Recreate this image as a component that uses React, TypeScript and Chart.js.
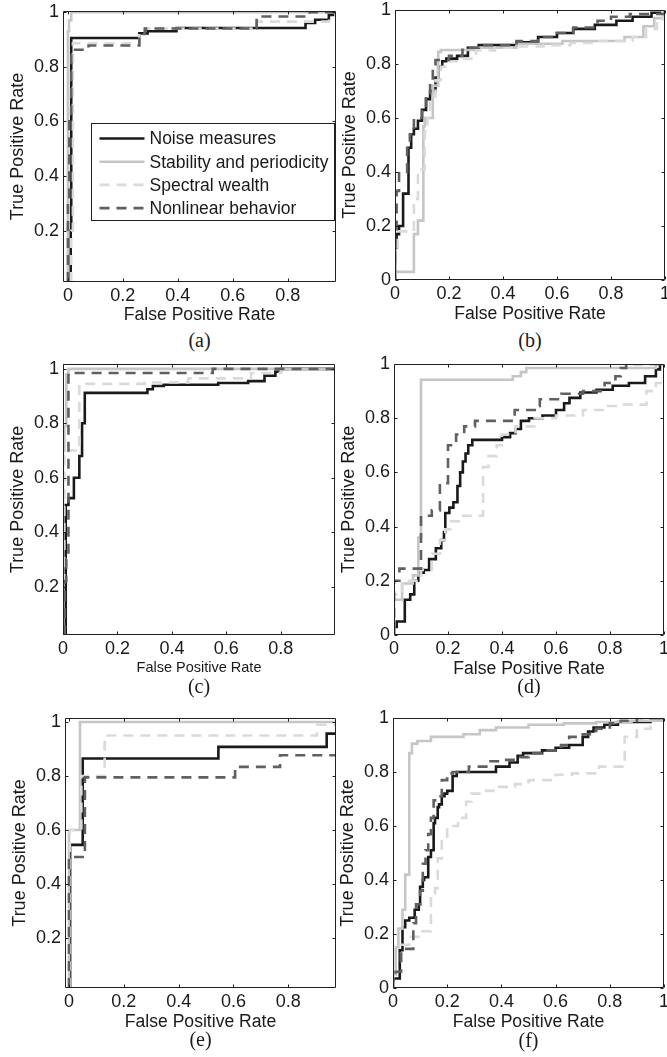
import React, { useEffect, useRef } from "react";
import { Chart, registerables } from "chart.js";

Chart.register(...registerables);

// ---------- labels ----------
const SERIES_LABELS = [
  "Noise measures",
  "Stability and periodicity",
  "Spectral wealth",
  "Nonlinear behavior",
];
const X_TITLE = "False Positive Rate";
const Y_TITLE = "True Positive Rate";
const CAPTIONS = ["(a)", "(b)", "(c)", "(d)", "(e)", "(f)"];

// ---------- tick labels ----------
const TICKS_0_TO_08 = [0, 0.2, 0.4, 0.6, 0.8];
const TICKS_0_TO_1 = [0, 0.2, 0.4, 0.6, 0.8, 1];
const TICKS_02_TO_1 = [0.2, 0.4, 0.6, 0.8, 1];

// ---------- data: [FPR, TPR] (step-after curves) ----------
// (a)
const A_NOISE = [[0.01, 0.0125], [0.012, 0.2], [0.26, 0.905], [0.29, 0.922], [0.395, 0.93], [0.865, 0.942], [0.9, 0.96], [0.95, 0.972], [0.965, 0.99], [0.976, 1.0]];
const A_STAB = [[0, 0.0125], [0.004, 0.93], [0.012, 0.97], [0.03, 1.0], [0.976, 1.0]];
const A_SPEC = [[0.012, 0.0125], [0.018, 0.2], [0.03, 0.886], [0.26, 0.886], [0.28, 0.92], [0.395, 0.94], [0.687, 0.94], [0.95, 0.965], [0.976, 1.0]];
const A_NONLIN = [[0, 0.0125], [0.005, 0.3], [0.012, 0.6], [0.022, 0.862], [0.075, 0.862], [0.26, 0.878], [0.28, 0.92], [0.395, 0.94], [0.687, 0.94], [0.88, 0.984], [0.976, 1.0]];
// (b)
const B_NOISE = [[0, 0], [0.006, 0.12], [0.015, 0.17], [0.03, 0.2], [0.05, 0.32], [0.06, 0.49], [0.07, 0.54], [0.085, 0.56], [0.1, 0.59], [0.115, 0.63], [0.13, 0.67], [0.15, 0.7], [0.16, 0.75], [0.175, 0.79], [0.19, 0.81], [0.23, 0.82], [0.27, 0.83], [0.31, 0.86], [0.45, 0.87], [0.53, 0.88], [0.6, 0.9], [0.66, 0.915], [0.74, 0.93], [0.82, 0.945], [0.88, 0.96], [0.95, 0.975], [1, 0.99], [1, 1]];
const B_STAB = [[0, 0], [0.07, 0.03], [0.085, 0.17], [0.105, 0.22], [0.11, 0.57], [0.14, 0.6], [0.16, 0.72], [0.17, 0.845], [0.3, 0.852], [0.45, 0.86], [0.62, 0.875], [0.85, 0.885], [0.92, 0.9], [0.96, 0.94], [1, 0.97], [1, 1]];
const B_SPEC = [[0, 0], [0.01, 0.1], [0.07, 0.18], [0.085, 0.3], [0.11, 0.41], [0.12, 0.55], [0.13, 0.6], [0.15, 0.68], [0.17, 0.74], [0.2, 0.79], [0.25, 0.81], [0.3, 0.82], [0.37, 0.85], [0.45, 0.86], [0.55, 0.865], [0.65, 0.87], [0.75, 0.878], [0.88, 0.885], [0.93, 0.9], [0.97, 0.93], [0.99, 0.965], [1, 1]];
const B_NONLIN = [[0, 0], [0.006, 0.17], [0.015, 0.33], [0.045, 0.395], [0.055, 0.49], [0.07, 0.54], [0.1, 0.6], [0.115, 0.63], [0.13, 0.69], [0.14, 0.74], [0.15, 0.78], [0.2, 0.815], [0.25, 0.83], [0.31, 0.86], [0.45, 0.87], [0.53, 0.885], [0.6, 0.9], [0.66, 0.915], [0.75, 0.935], [0.8, 0.96], [0.87, 0.975], [1, 0.985], [1, 1]];
// (c)
const C_NOISE = [[0.01, 0.022], [0.02, 0.5], [0.04, 0.525], [0.06, 0.6], [0.07, 0.68], [0.08, 0.8], [0.31, 0.912], [0.33, 0.925], [0.37, 0.937], [0.57, 0.942], [0.68, 0.948], [0.74, 0.955], [0.78, 0.975], [0.8, 0.99], [0.999, 1.0]];
const C_STAB = [[0, 0.022], [0.005, 0.7], [0.012, 0.79], [0.02, 0.98], [0.03, 1.0], [0.999, 1.0]];
const C_SPEC = [[0.005, 0.022], [0.06, 0.7], [0.3, 0.945], [0.46, 0.95], [0.69, 0.965], [0.8, 0.985], [0.999, 1.0]];
const C_NONLIN = [[0.006, 0.022], [0.012, 0.22], [0.02, 0.3], [0.025, 0.985], [0.55, 0.985], [0.999, 1.0]];
// (d)
const D_NOISE = [[0, 0], [0.01, 0.03], [0.04, 0.05], [0.06, 0.13], [0.075, 0.15], [0.09, 0.2], [0.11, 0.23], [0.13, 0.24], [0.155, 0.28], [0.175, 0.32], [0.185, 0.35], [0.19, 0.38], [0.205, 0.45], [0.22, 0.47], [0.235, 0.49], [0.245, 0.55], [0.255, 0.6], [0.265, 0.64], [0.275, 0.67], [0.29, 0.7], [0.4, 0.72], [0.43, 0.73], [0.45, 0.745], [0.47, 0.76], [0.5, 0.79], [0.55, 0.8], [0.6, 0.81], [0.63, 0.83], [0.65, 0.855], [0.69, 0.875], [0.75, 0.895], [0.81, 0.905], [0.87, 0.92], [0.93, 0.93], [0.97, 0.955], [0.985, 0.98], [1, 1]];
const D_STAB = [[0, 0], [0.005, 0.13], [0.03, 0.13], [0.07, 0.19], [0.09, 0.22], [0.1, 0.36], [0.44, 0.942], [0.47, 0.955], [0.49, 0.97], [0.97, 0.985], [1, 1]];
const D_SPEC = [[0, 0], [0.03, 0.15], [0.1, 0.2], [0.14, 0.24], [0.17, 0.3], [0.19, 0.35], [0.21, 0.39], [0.25, 0.42], [0.33, 0.44], [0.35, 0.62], [0.38, 0.66], [0.4, 0.7], [0.45, 0.74], [0.52, 0.77], [0.6, 0.8], [0.7, 0.81], [0.78, 0.83], [0.84, 0.845], [0.935, 0.85], [0.97, 0.9], [1, 0.93], [1, 0.95]];
const D_NONLIN = [[0, 0], [0.02, 0.2], [0.1, 0.245], [0.14, 0.44], [0.17, 0.46], [0.2, 0.56], [0.23, 0.7], [0.26, 0.74], [0.3, 0.77], [0.447, 0.79], [0.53, 0.83], [0.54, 0.845], [0.62, 0.87], [0.7, 0.89], [0.78, 0.9], [0.82, 0.93], [0.84, 0.955], [0.86, 0.985], [1, 1]];
// (e)
const E_NOISE = [[0.004, 0.015], [0.05, 0.545], [0.545, 0.865], [0.94, 0.908], [0.974, 0.957]];
const E_STAB = [[0, 0.015], [0.04, 0.6], [0.974, 1.0]];
const E_SPEC = [[0.003, 0.015], [0.045, 0.6], [0.13, 0.8], [0.905, 0.95], [0.974, 0.99]];
const E_NONLIN = [[0, 0.015], [0.058, 0.5], [0.606, 0.795], [0.77, 0.834], [0.974, 0.877]];
// (f)
const F_NOISE = [[0, 0], [0.025, 0.035], [0.035, 0.14], [0.045, 0.225], [0.06, 0.25], [0.08, 0.26], [0.095, 0.29], [0.1, 0.31], [0.11, 0.375], [0.115, 0.4], [0.13, 0.41], [0.14, 0.485], [0.15, 0.51], [0.155, 0.61], [0.165, 0.63], [0.17, 0.67], [0.18, 0.68], [0.19, 0.71], [0.2, 0.72], [0.22, 0.73], [0.235, 0.785], [0.38, 0.8], [0.43, 0.82], [0.46, 0.835], [0.48, 0.86], [0.55, 0.87], [0.6, 0.88], [0.65, 0.89], [0.7, 0.9], [0.72, 0.93], [0.74, 0.95], [0.78, 0.965], [0.83, 0.975], [0.95, 0.985], [1, 0.99], [1, 1]];
const F_STAB = [[0, 0], [0.01, 0.05], [0.02, 0.15], [0.035, 0.22], [0.045, 0.29], [0.06, 0.42], [0.07, 0.87], [0.09, 0.905], [0.14, 0.915], [0.26, 0.93], [0.32, 0.94], [0.38, 0.955], [0.5, 0.965], [0.63, 0.975], [0.75, 0.98], [0.88, 0.985], [1, 0.99], [1, 1]];
const F_SPEC = [[0, 0], [0.03, 0.1], [0.06, 0.16], [0.1, 0.19], [0.14, 0.21], [0.155, 0.35], [0.165, 0.37], [0.18, 0.48], [0.2, 0.56], [0.24, 0.6], [0.27, 0.63], [0.29, 0.69], [0.33, 0.72], [0.37, 0.73], [0.45, 0.745], [0.5, 0.755], [0.6, 0.77], [0.66, 0.79], [0.76, 0.795], [0.855, 0.82], [0.9, 0.93], [0.95, 0.96], [1, 1]];
const F_NONLIN = [[0, 0], [0.01, 0.03], [0.03, 0.06], [0.04, 0.14], [0.075, 0.145], [0.085, 0.24], [0.1, 0.31], [0.11, 0.36], [0.12, 0.46], [0.13, 0.51], [0.14, 0.57], [0.15, 0.63], [0.16, 0.695], [0.18, 0.71], [0.2, 0.77], [0.22, 0.795], [0.28, 0.8], [0.36, 0.82], [0.41, 0.84], [0.47, 0.845], [0.5, 0.855], [0.55, 0.87], [0.62, 0.88], [0.65, 0.9], [0.7, 0.93], [0.75, 0.94], [0.8, 0.96], [0.84, 0.98], [0.9, 0.99], [1, 1]];

// ---------- styles ----------
const SANS = "'Liberation Sans', Arial, Helvetica, sans-serif";
const SERIF = "'Liberation Serif', 'Times New Roman', serif";
const INK = "#1a1a1a";
const LINE_STYLES = [
  { color: "#1a1a1a", dash: [] as number[] },
  { color: "#c6c6c6", dash: [] as number[] },
  { color: "#dadada", dash: [10, 7] },
  { color: "#606060", dash: [10, 7] },
];
const LINE_WIDTH = 2.6;

// ---------- layout (pixels) ----------
const YW = 56; // y-axis box width
const XH = 45; // x-axis box height
const PT = 10; // top padding
const TICK_LEN = 3;

type Panel = {
  series: number[][][];
  xMin: number; xMax: number; yMin: number; yMax: number;
  xTicks: number[]; yTicks: number[];
  L: number; T: number; R: number; B: number;
  PR: number;
  xTitleSize: number; xTitleOffset: number;
  capY: number;
  legend?: boolean;
};

const PANELS: Panel[] = [
  { series: [A_NOISE, A_STAB, A_SPEC, A_NONLIN], xMin: -0.018, xMax: 0.976, yMin: 0.0125, yMax: 1.004, xTicks: TICKS_0_TO_08, yTicks: TICKS_02_TO_1, L: 63, T: 11, R: 336, B: 282, PR: 3, xTitleSize: 17.6, xTitleOffset: 33, capY: 340, legend: true },
  { series: [B_NOISE, B_STAB, B_SPEC, B_NONLIN], xMin: 0, xMax: 1, yMin: 0, yMax: 1, xTicks: TICKS_0_TO_1, yTicks: TICKS_0_TO_1, L: 395, T: 10, R: 665, B: 280, PR: 2, xTitleSize: 17.6, xTitleOffset: 35, capY: 340 },
  { series: [C_NOISE, C_STAB, C_SPEC, C_NONLIN], xMin: 0, xMax: 0.999, yMin: 0.022, yMax: 1.018, xTicks: TICKS_0_TO_08, yTicks: TICKS_02_TO_1, L: 63, T: 364, R: 335, B: 635, PR: 3, xTitleSize: 14.5, xTitleOffset: 33, capY: 686 },
  { series: [D_NOISE, D_STAB, D_SPEC, D_NONLIN], xMin: 0, xMax: 1, yMin: 0, yMax: 1, xTicks: TICKS_0_TO_1, yTicks: TICKS_0_TO_1, L: 394, T: 364, R: 664, B: 635, PR: 3, xTitleSize: 17.6, xTitleOffset: 35, capY: 686 },
  { series: [E_NOISE, E_STAB, E_SPEC, E_NONLIN], xMin: -0.0146, xMax: 0.974, yMin: 0.015, yMax: 1.015, xTicks: TICKS_0_TO_08, yTicks: TICKS_02_TO_1, L: 65, T: 718, R: 336, B: 988, PR: 3, xTitleSize: 17.6, xTitleOffset: 35, capY: 1039 },
  { series: [F_NOISE, F_STAB, F_SPEC, F_NONLIN], xMin: 0, xMax: 1, yMin: 0, yMax: 1, xTicks: TICKS_0_TO_1, yTicks: TICKS_0_TO_1, L: 393, T: 718, R: 664, B: 988, PR: 3, xTitleSize: 17.6, xTitleOffset: 35, capY: 1040 },
];

const fmtTick = (v: number) => (v === 0 ? "0" : v === 1 ? "1" : v.toFixed(1));

// frame with inward ticks on all four sides
const framePlugin = {
  id: "frame",
  afterDatasetsDraw(chart: any) {
    const { ctx, chartArea, scales } = chart;
    const { left, top, right, bottom } = chartArea;
    const l = Math.round(left) + 0.5, t = Math.round(top) + 0.5;
    const r = Math.round(right) - 0.5, b = Math.round(bottom) - 0.5;
    ctx.save();
    ctx.strokeStyle = "#202020";
    ctx.lineWidth = 1;
    ctx.setLineDash([]);
    ctx.beginPath();
    ctx.rect(l, t, r - l, b - t);
    scales.x.ticks.forEach((tk: any) => {
      const px = Math.round(scales.x.getPixelForValue(tk.value)) + 0.5;
      ctx.moveTo(px, b); ctx.lineTo(px, b - TICK_LEN);
      ctx.moveTo(px, t); ctx.lineTo(px, t + TICK_LEN);
    });
    scales.y.ticks.forEach((tk: any) => {
      const py = Math.round(scales.y.getPixelForValue(tk.value)) + 0.5;
      ctx.moveTo(l, py); ctx.lineTo(l + TICK_LEN, py);
      ctx.moveTo(r, py); ctx.lineTo(r - TICK_LEN, py);
    });
    ctx.stroke();
    ctx.restore();
  },
};

// legend box drawn inside the plot area of panel (a)
const insideLegendPlugin = {
  id: "insideLegend",
  afterDraw(chart: any) {
    const { ctx, chartArea } = chart;
    const bx = Math.round(chartArea.left + 28) + 0.5;
    const by = Math.round(chartArea.top + 112) + 0.5;
    const bw = 243, bh = 97;
    ctx.save();
    ctx.fillStyle = "#ffffff";
    ctx.fillRect(bx, by, bw, bh);
    ctx.strokeStyle = "#202020";
    ctx.lineWidth = 1;
    ctx.setLineDash([]);
    ctx.strokeRect(bx, by, bw, bh);
    ctx.font = `17.5px ${SANS}`;
    ctx.textBaseline = "middle";
    ctx.textAlign = "left";
    chart.data.datasets.forEach((ds: any, i: number) => {
      const cy = by + 15 + i * 23.2;
      ctx.strokeStyle = ds.borderColor;
      ctx.lineWidth = ds.borderWidth;
      ctx.setLineDash(ds.borderDash || []);
      ctx.beginPath();
      ctx.moveTo(bx + 8, cy);
      ctx.lineTo(bx + 53, cy);
      ctx.stroke();
      ctx.setLineDash([]);
      ctx.fillStyle = INK;
      ctx.fillText(ds.label, bx + 58, cy + 1);
    });
    ctx.restore();
  },
};

function RocPanel({ p }: { p: Panel }) {
  const ref = useRef<HTMLCanvasElement>(null);
  const plotW = p.R - p.L;
  const plotH = p.B - p.T;
  const cw = YW + plotW + p.PR;
  const ch = PT + plotH + XH;

  useEffect(() => {
    if (!ref.current) return;
    const xLh = p.xTitleSize * 1.2;
    const xTitlePadBottom = Math.max(0, XH - xLh / 2 - p.xTitleOffset);
    const chart = new Chart(ref.current, {
      type: "line",
      data: {
        datasets: p.series.map((s, i) => ({
          label: SERIES_LABELS[i],
          data: s.map(([x, y]) => ({ x, y })),
          borderColor: LINE_STYLES[i].color,
          borderDash: LINE_STYLES[i].dash,
          borderWidth: LINE_WIDTH,
          borderCapStyle: "butt",
          borderJoinStyle: "miter",
          pointRadius: 0,
          pointHoverRadius: 0,
          stepped: "after",
          fill: false,
          tension: 0,
          order: 3 - i,
        })),
      },
      options: {
        animation: false,
        responsive: false,
        maintainAspectRatio: false,
        events: [],
        layout: { padding: { left: 0, top: PT, right: p.PR, bottom: 0 } },
        plugins: {
          legend: { display: false },
          tooltip: { enabled: false },
          title: { display: false },
        },
        scales: {
          x: {
            type: "linear",
            min: p.xMin,
            max: p.xMax,
            afterBuildTicks: (sc: any) => {
              sc.ticks = p.xTicks.map((v) => ({ value: v }));
            },
            afterFit: (sc: any) => {
              sc.height = XH;
              sc.paddingLeft = 0;
              sc.paddingRight = 0;
            },
            grid: { display: false, drawTicks: false },
            border: { display: false },
            ticks: {
              autoSkip: false,
              maxRotation: 0,
              minRotation: 0,
              padding: 3,
              color: INK,
              font: { family: SANS, size: 18 },
              callback: (v: any) => fmtTick(Number(v)),
            },
            title: {
              display: true,
              text: X_TITLE,
              color: INK,
              font: { family: SANS, size: p.xTitleSize },
              padding: { top: 0, bottom: xTitlePadBottom },
            },
          },
          y: {
            type: "linear",
            min: p.yMin,
            max: p.yMax,
            afterBuildTicks: (sc: any) => {
              sc.ticks = p.yTicks.map((v) => ({ value: v }));
            },
            afterFit: (sc: any) => {
              sc.width = YW;
              sc.paddingTop = 0;
              sc.paddingBottom = 0;
            },
            grid: { display: false, drawTicks: false },
            border: { display: false },
            ticks: {
              autoSkip: false,
              padding: 4,
              color: INK,
              font: { family: SANS, size: 18 },
              callback: (v: any) => fmtTick(Number(v)),
            },
            title: {
              display: true,
              text: Y_TITLE,
              color: INK,
              font: { family: SANS, size: 18 },
              padding: { top: 0, bottom: 0 },
            },
          },
        },
      },
      plugins: p.legend ? [framePlugin, insideLegendPlugin] : [framePlugin],
    } as any);
    return () => chart.destroy();
  }, []);

  return (
    <canvas
      ref={ref}
      width={cw}
      height={ch}
      style={{
        position: "absolute",
        left: p.L - YW,
        top: p.T - PT,
        width: cw,
        height: ch,
        display: "block",
      }}
    />
  );
}

export default function App() {
  return (
    <div
      style={{
        position: "absolute",
        left: 0,
        top: 0,
        width: 667,
        height: 1057,
        background: "#ffffff",
        overflow: "hidden",
      }}
    >
      {PANELS.map((p, i) => (
        <RocPanel key={i} p={p} />
      ))}
      {PANELS.map((p, i) => (
        <div
          key={"c" + i}
          style={{
            position: "absolute",
            left: (p.L + p.R) / 2 - 40,
            top: p.capY - 12,
            width: 80,
            height: 24,
            lineHeight: "24px",
            textAlign: "center",
            fontFamily: SERIF,
            fontSize: 20,
            color: INK,
          }}
        >
          {CAPTIONS[i]}
        </div>
      ))}
    </div>
  );
}
